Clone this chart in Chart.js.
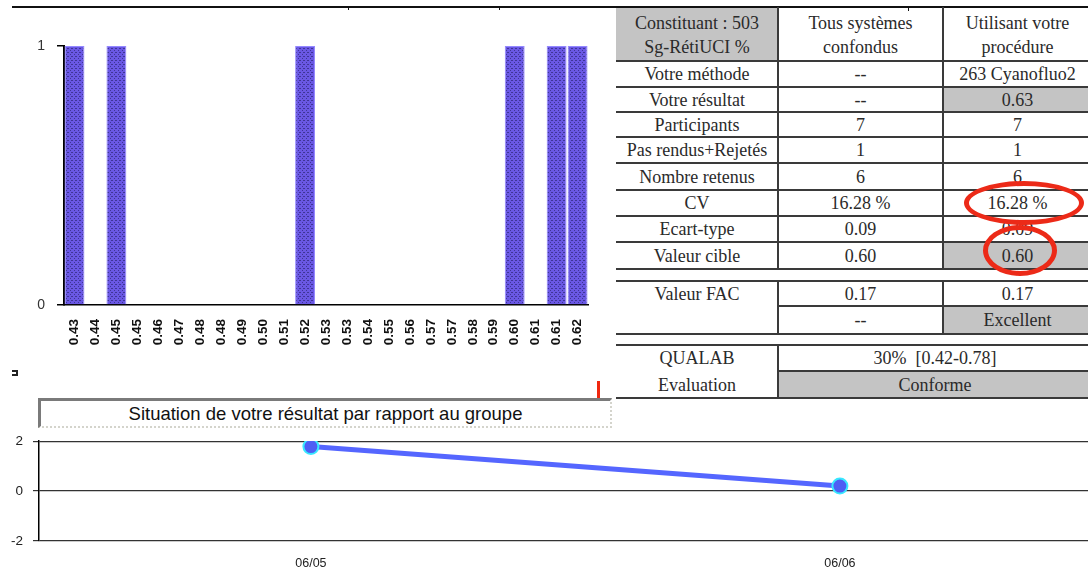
<!DOCTYPE html>
<html>
<head>
<meta charset="utf-8">
<script src="https://cdn.jsdelivr.net/npm/chart.js@4.4.1/dist/chart.umd.min.js"></script>
<style>
  html, body { margin:0; padding:0; background:#fff; }
  body { width:1088px; height:570px; position:relative; overflow:hidden; font-family:"Liberation Serif","Times New Roman",serif; }
  .abs { position:absolute; }
  .cell { position:absolute; display:flex; align-items:center; justify-content:center; text-align:center;
          font-size:18px; color:#2a2a2a; line-height:24px; box-sizing:border-box; white-space:nowrap; }
  .gray { background:#c4c4c4; }
  .hl { position:absolute; height:2px; background:#3a3a3a; }
  .vl { position:absolute; width:2px; background:#3a3a3a; }
  .ring { position:absolute; border:5px solid #ec2a18; border-radius:50%; box-sizing:border-box; }
  #titleBox { position:absolute; left:38px; top:398px; width:574px; height:30px; box-sizing:border-box;
    border-top:3px solid #7a7a7a; border-left:3px solid #7a7a7a; border-bottom:2px dotted #d4d4cc; border-right:2px dotted #d4d4cc;
    font-family:"Liberation Sans",Arial,sans-serif; font-size:18.5px; color:#111; text-align:center; line-height:25px; }
</style>
</head>
<body>
<div class="abs" style="left:12px;top:6px;width:1076px;height:2px;background:#111"></div>
<div class="abs" style="left:348px;top:6px;width:1px;height:4px;background:#111"></div>
<div class="abs" style="left:499px;top:6px;width:1px;height:4px;background:#111"></div>
<div class="abs" style="left:908px;top:6px;width:1px;height:5px;background:#111"></div>
<div class="abs" style="left:12px;top:370px;width:6px;height:6px;border:2px solid #222;border-left:none;box-sizing:border-box"></div>

<canvas id="histo" class="abs" style="left:0;top:0" width="600" height="360"></canvas>
<div id="table"></div>

<div class="abs" style="left:597px;top:381px;width:3px;height:17px;background:#f02810"></div>
<div id="titleBox">Situation de votre résultat par rapport au groupe</div>
<canvas id="trend" class="abs" style="left:0;top:423px" width="1088" height="147"></canvas>

<script>
// histogram of the group results
const binLabels = ['0.43','0.44','0.45','0.45','0.46','0.47','0.48','0.48','0.49','0.50','0.51','0.52','0.53',
                   '0.53','0.54','0.55','0.56','0.57','0.57','0.58','0.59','0.60','0.61','0.61','0.62'];
const binCounts = [1,0,1,0,0,0,0,0,0,0,0,1,0,0,0,0,0,0,0,0,0,1,0,1,1];
const countTicks = [0, 1];

// situation vs group
const surveyDates = ['06/05', '06/06'];
const zScores = [1.78, 0.2];
const zTicks = [-2, 0, 2];

Chart.defaults.font.family = '"Liberation Sans", Arial, sans-serif';
Chart.defaults.color = '#222';

// stippled purple fill like the original export
function stipple() {
  const c = document.createElement('canvas');
  c.width = 4; c.height = 4;
  const g = c.getContext('2d');
  g.fillStyle = '#6a58e4'; g.fillRect(0,0,4,4);
  g.fillStyle = '#3f3598';
  g.fillRect(0,0,1,1); g.fillRect(2,2,1,1); g.fillRect(3,0,1,1);
  return g.createPattern(c, 'repeat');
}

new Chart(document.getElementById('histo').getContext('2d'), {
  type: 'bar',
  data: { labels: binLabels, datasets: [{ data: binCounts, backgroundColor: stipple(),
          borderColor: '#9488ff', borderWidth: 1, barPercentage: 0.95, categoryPercentage: 1 }] },
  options: {
    responsive: false, animation: false,
    layout: { autoPadding: false, padding: { top: 46, right: 10, left: 0, bottom: 0 } },
    plugins: { legend: { display: false }, tooltip: { enabled: false } },
    scales: {
      x: {
        grid: { display: false },
        border: { color: '#000', width: 1.5 },
        ticks: { minRotation: 90, maxRotation: 90, autoSkip: false, padding: 6,
                 font: { size: 13.5, weight: 'bold' }, color: '#111' },
        afterFit: s => { s.height = 55; }
      },
      y: {
        min: 0, max: 1,
        afterBuildTicks: s => { s.ticks = countTicks.map(v => ({ value: v })); },
        grid: { drawOnChartArea: false, tickLength: 7, color: '#000', lineWidth: 1.5 },
        border: { color: '#000', width: 2 },
        ticks: { font: { size: 14 }, color: '#333', padding: 12 },
        afterFit: s => { s.width = 64; }
      }
    }
  }
});

new Chart(document.getElementById('trend').getContext('2d'), {
  type: 'line',
  data: { datasets: [{
    data: zScores.map((v, i) => ({ x: i, y: v })),
    borderColor: '#5566ff', borderWidth: 5,
    pointRadius: 7.5, pointBackgroundColor: '#4e5ef4', pointBorderColor: '#38e8ff', pointBorderWidth: 2
  }] },
  options: {
    responsive: false, animation: false,
    layout: { autoPadding: false, padding: { top: 10, right: 0, left: 0, bottom: 0 } },
    plugins: { legend: { display: false }, tooltip: { enabled: false } },
    scales: {
      x: {
        type: 'linear', min: -0.514, max: 1.469,
        afterBuildTicks: s => { s.ticks = surveyDates.map((d, i) => ({ value: i })); },
        grid: { display: false },
        border: { display: false },
        ticks: { callback: v => surveyDates[v], font: { size: 12.5 }, color: '#222', padding: 7 },
        afterFit: s => { s.height = 29; }
      },
      y: {
        min: -2, max: 2,
        afterBuildTicks: s => { s.ticks = zTicks.map(v => ({ value: v })); },
        grid: { color: '#333', lineWidth: 1.2, tickLength: 6 },
        border: { color: '#000', width: 1.5 },
        ticks: { font: { size: 13.5 }, color: '#222', padding: 10 },
        afterFit: s => { s.width = 39; }
      }
    }
  }
});

// results table (drawn as positioned cells)
const X = [616, 778, 943, 1092];
const tbl = document.getElementById('table');
function cell(x0, y0, x1, y1, html, cls) {
  const d = document.createElement('div');
  d.className = 'cell' + (cls ? ' ' + cls : '');
  d.style.left = x0 + 'px'; d.style.top = y0 + 'px';
  d.style.width = (x1 - x0) + 'px'; d.style.height = (y1 - y0) + 'px';
  d.innerHTML = html;
  tbl.appendChild(d);
  return d;
}
function hline(x0, x1, y) {
  const d = document.createElement('div');
  d.className = 'hl';
  d.style.left = x0 + 'px'; d.style.top = (y - 1) + 'px'; d.style.width = (x1 - x0) + 'px';
  tbl.appendChild(d);
}
function vline(x, y0, y1) {
  const d = document.createElement('div');
  d.className = 'vl';
  d.style.left = (x - 1) + 'px'; d.style.top = y0 + 'px'; d.style.height = (y1 - y0) + 'px';
  tbl.appendChild(d);
}

cell(X[0], 8, X[1], 61, 'Constituant : 503<br>Sg-RétiUCI %', 'gray');
cell(X[1], 8, X[2], 61, 'Tous systèmes<br>confondus');
cell(X[2], 8, X[3], 61, 'Utilisant votre<br>procédure');

const rowsY = [61, 87, 112, 137, 163, 190, 216, 242, 269];
const rowText = [
  ['Votre méthode', '--', '263 Cyanofluo2'],
  ['Votre résultat', '--', '0.63'],
  ['Participants', '7', '7'],
  ['Pas rendus+Rejetés', '1', '1'],
  ['Nombre retenus', '6', '6'],
  ['CV', '16.28 %', '16.28 %'],
  ['Ecart-type', '0.09', '0.09'],
  ['Valeur cible', '0.60', '0.60']
];
const grayRight = [1, 7];
rowText.forEach((r, i) => {
  const y0 = rowsY[i], y1 = rowsY[i + 1];
  cell(X[0], y0, X[1], y1, r[0]);
  cell(X[1], y0, X[2], y1, r[1]);
  cell(X[2], y0, X[3], y1, r[2], grayRight.includes(i) ? 'gray' : '');
});

// FAC block
cell(X[0], 281, X[1], 306, 'Valeur FAC');
cell(X[1], 281, X[2], 306, '0.17');
cell(X[2], 281, X[3], 306, '0.17');
cell(X[1], 306, X[2], 334, '--');
cell(X[2], 306, X[3], 334, 'Excellent', 'gray');

// QUALAB block
cell(X[0], 345, X[1], 371, 'QUALAB');
cell(X[0], 371, X[1], 398, 'Evaluation');
cell(X[1], 345, X[3], 371, '30%&nbsp; [0.42-0.78]');
cell(X[1], 371, X[3], 398, 'Conforme', 'gray');

[61, 87, 112, 137, 163, 190, 216, 242, 269, 281, 334, 345, 398].forEach(y => hline(X[0], X[3], y));
hline(X[1], X[3], 306);
hline(X[1], X[3], 371);
vline(X[1], 7, 269); vline(X[2], 7, 269);
vline(X[1], 281, 334); vline(X[2], 281, 334);
vline(X[1], 345, 398);

// red marks
const r1 = document.createElement('div'); r1.className = 'ring';
Object.assign(r1.style, { left: '964px', top: '181px', width: '120px', height: '44px' });
tbl.appendChild(r1);
const r2 = document.createElement('div'); r2.className = 'ring';
Object.assign(r2.style, { left: '983px', top: '225px', width: '74px', height: '51px' });
tbl.appendChild(r2);
</script>
</body>
</html>
